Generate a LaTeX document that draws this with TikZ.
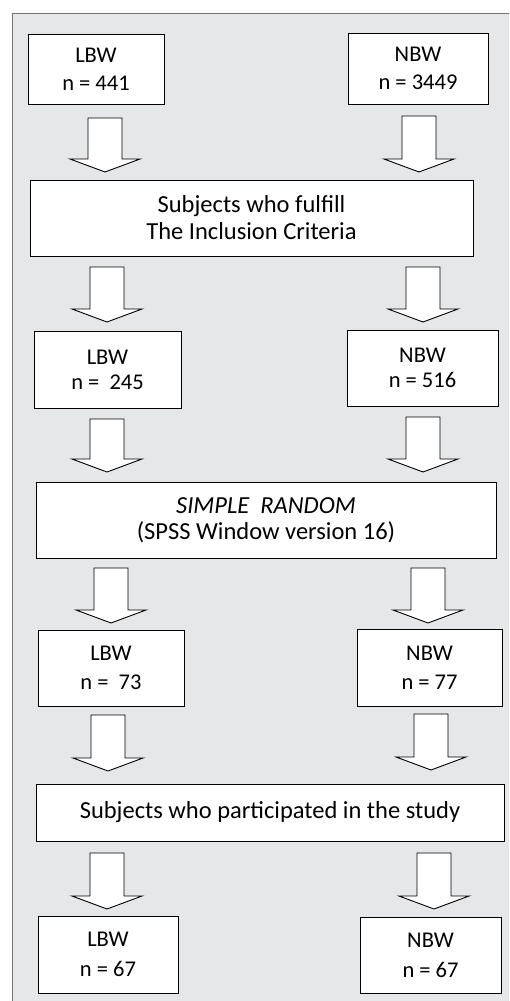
\documentclass[tikz,border=0pt]{standalone}
\usepackage{fontspec}
\setmainfont{Carlito}
\usetikzlibrary{positioning}
\definecolor{pPanel}{RGB}{230,231,233}
\definecolor{pEdge}{gray}{0.45}
\tikzset{
    wbox/.style={rectangle, draw, line width=1pt, fill=white, inner sep=0pt, align=center,
                 font=\fontsize{24.5}{27}\selectfont},
    barrow/.style={draw, line width=0.9pt, fill=white, line join=miter}
}
% block arrow: centre x, top y, tip y
\newcommand{\blockdown}[3]{%
  \draw[barrow] (#1-17,#2) -- (#1+17,#2) -- (#1+17,#3-13) -- (#1+35,#3-13)
    -- (#1,#3) -- (#1-35,#3-13) -- (#1-17,#3-13) -- cycle;}

\begin{document}
\begin{tikzpicture}[x=1pt,y=-1pt]
\useasboundingbox (0,0) rectangle (509,1001);
\fill[pPanel] (12,13) rectangle (509,1001);
\draw[pEdge,line width=1pt] (12,1001) -- (12,13) -- (509,13);

% first row
\node[wbox, minimum width=136, minimum height=70, font=\fontsize{22.5}{28}\selectfont] (lbwA) at (96,69) {LBW\\n = 441};
\node[wbox, minimum width=140, minimum height=71, font=\fontsize{22.5}{28}\selectfont] (nbwA) at (418,68.5) {NBW\\n = 3449};
\blockdown{105}{118}{172}
\blockdown{419}{116}{172}
\node[wbox, minimum width=443, minimum height=76] (incl) at (251.5,218) {Subjects who fulfill\\The Inclusion Criteria};
\blockdown{107}{267}{322}
\blockdown{423}{267}{322}

% after inclusion
\node[wbox, minimum width=147, minimum height=77, font=\fontsize{22.5}{25}\selectfont] (lbwB) at (107.5,369.5) {LBW\\n = \ 245};
\node[wbox, minimum width=151, minimum height=76, font=\fontsize{22.5}{25}\selectfont] (nbwB) at (422.5,368) {NBW\\n = 516};
\blockdown{107}{419}{472}
\blockdown{423}{417}{472}
\node[wbox, minimum width=460, minimum height=76, font=\fontsize{24.5}{26}\selectfont] (rand) at (266,520) {\textit{SIMPLE\ \ RANDOM}\\(SPSS Window version 16)};
\blockdown{111}{568}{623}
\blockdown{428}{568}{623}

% sampled
\node[wbox, minimum width=146, minimum height=76, font=\fontsize{22.5}{29}\selectfont] (lbwC) at (111,668) {LBW\\n = \ 73};
\node[wbox, minimum width=145, minimum height=77, font=\fontsize{22.5}{29}\selectfont] (nbwC) at (429.5,667.5) {NBW\\n = 77};
\blockdown{108}{715}{771}
\blockdown{431}{714}{770}
\node[wbox, minimum width=468, minimum height=57] (part) at (270,812.5) {Subjects who participated in the study};
\blockdown{107}{853}{909}
\blockdown{434}{853}{909}

% final
\node[wbox, minimum width=140, minimum height=77, font=\fontsize{22.5}{30}\selectfont] (lbwD) at (108,954.5) {LBW\\n = 67};
\node[wbox, minimum width=141, minimum height=76, font=\fontsize{22.5}{30}\selectfont] (nbwD) at (430.5,955) {NBW\\n = 67};
\end{tikzpicture}
\end{document}
